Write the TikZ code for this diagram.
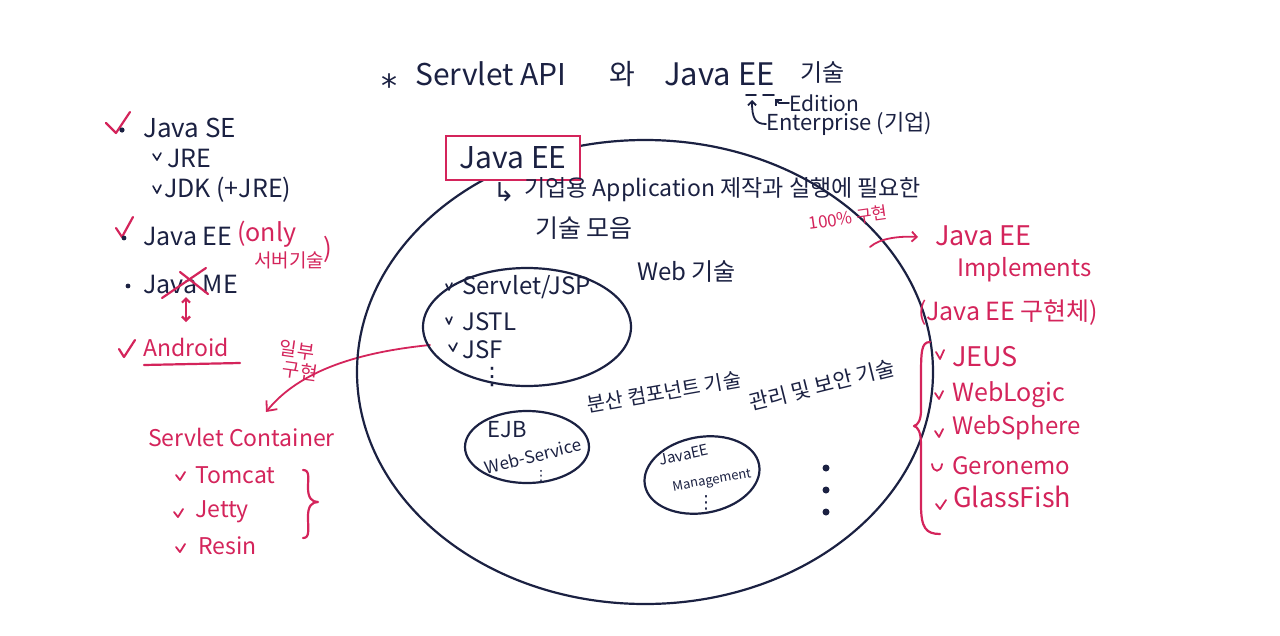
\documentclass[tikz,border=0pt]{standalone}
\usepackage{fontspec}
\setmainfont{Noto Sans CJK KR}
\newfontfamily\symfont{DejaVu Sans}
\usetikzlibrary{arrows.meta}
\definecolor{navy}{HTML}{1B2142}
\definecolor{pinkred}{HTML}{D4245B}
\tikzset{
  nv/.style={text=navy, inner sep=0pt, font=\fontsize{24}{26}\selectfont},
  rd/.style={text=pinkred, inner sep=0pt, font=\fontsize{24}{26}\selectfont},
  nvline/.style={draw=navy, line width=2.2pt, line cap=round, line join=round},
  rdline/.style={draw=pinkred, line width=2.2pt, line cap=round, line join=round},
  chk/.style={draw=pinkred, line width=2.2pt, line cap=round, line join=round},
  fs/.style={font=\fontsize{#1}{#1}\selectfont},
}
\begin{document}
\begin{tikzpicture}[x=1pt,y=-1pt]
\useasboundingbox[fill=white] (0,0) rectangle (1280,635);

% ---------- title ----------
\node[nv, fs=32] (star) at (389,86) {\symfont *};
\node[nv, anchor=west, fs=30] (sapi) at (415,74) {Servlet API};
\node[nv, fs=28] (wa) at (622,74) {와};
\node[nv, anchor=west, fs=31] (jee) at (664,74) {Java EE};
\node[nv, anchor=west, fs=24] (gisul) at (800,73) {기술};
\draw[nvline, line width=1.8pt] (746,95) -- (756,95);
\draw[nvline, line width=1.8pt] (763,95) -- (774,95);
\node[nv, anchor=west, fs=21] (edition) at (789,103) {Edition};
\node[nv, anchor=west, fs=22] (enterprise) at (766,124) {Enterprise (기업)};
\draw[nvline, line width=1.8pt, -{Straight Barb[length=4pt]}] (edition.west) -- (779,103) -- (775,99);
\draw[nvline, line width=1.8pt, -{Straight Barb[length=4pt]}] (enterprise.west) .. controls (755,124) and (752,118) .. (752,100);

% ---------- left list ----------
\draw[chk] (106,123) -- (116,133) -- (130,112);
\fill[navy] (122,130) circle (2.6pt);
\node[nv, anchor=west, fs=26] (javase) at (143,128) {Java SE};
\draw[nvline, line width=1.6pt] (153,154) -- (157,160) -- (161,153);
\node[nv, anchor=west, fs=25] (jre) at (167,158) {JRE};
\draw[nvline, line width=1.6pt] (153,186) -- (157,193) -- (161,185);
\node[nv, anchor=west, fs=25] (jdk) at (164,190) {JDK (+JRE)};

\draw[chk] (116,228) -- (122,237) -- (133,217);
\fill[navy] (124,238) circle (2.4pt);
\node[nv, anchor=west, fs=25] (javaee) at (143,236) {Java EE};
\node[rd, anchor=west, fs=25] (only) at (237,234) {(only};
\node[rd, anchor=west, fs=19] (server) at (254,260) {서버기술};
\node[rd, anchor=west, fs=26] (rparen) at (323,249) {)};

\fill[navy] (128,286) circle (2.4pt);
\node[nv, anchor=west, fs=25] (javame) at (143,284) {Java ME};
\draw[rdline] (162,298) -- (206,268);
\draw[rdline] (180,272) -- (208,294);
\draw[rdline, {Straight Barb[length=4pt]}-{Straight Barb[length=4pt]}] (186,297) -- (186,322);

\draw[chk] (119,349) -- (124,357) -- (135,340);
\node[rd, anchor=west, fs=23] (android) at (143,347) {Android};
\draw[rdline] (144,365) -- (240,363);

% ---------- 일부 구현 arrow ----------
\node[rd, rotate=-8, fs=19] (ilbu) at (297,350) {일부};
\node[rd, rotate=-8, fs=19] (guhyun1) at (300,371) {구현};
\coordinate (jsfleft) at (430,345);
\coordinate (sctop) at (266,412);
\draw[rdline, line width=1.8pt, -{Straight Barb[length=8pt, width=14pt]}] (jsfleft) .. controls (360,352) and (300,370) .. (sctop);

% ---------- servlet container ----------
\node[rd, anchor=west, fs=23] (sc) at (148,437) {Servlet Container};
\draw[chk, line width=1.8pt] (176,475) -- (180,480) -- (185,472);
\node[rd, anchor=west, fs=23] (tomcat) at (195,475) {Tomcat};
\draw[chk, line width=1.8pt] (174,512) -- (178,517) -- (183,509);
\node[rd, anchor=west, fs=23] (jetty) at (195,512) {Jetty};
\draw[chk, line width=1.8pt] (176,547) -- (180,552) -- (185,544);
\node[rd, anchor=west, fs=23] (resin) at (198,546) {Resin};
\draw[rdline] (303,470) .. controls (310,470) and (308,478) .. (308,488) .. controls (308,498) and (312,502) .. (318,502)
  .. controls (312,502) and (308,506) .. (308,516) .. controls (308,530) and (310,538) .. (303,538);

% ---------- big circle ----------
\draw[nvline] (645,372) ellipse [x radius=288, y radius=232];
\node[nv, draw=pinkred, line width=2pt, fill=white, minimum width=134pt, minimum height=44pt, fs=30] (eebox) at (513,158) {Java EE};

\node[nv, fs=26] (hookarrow) at (504,192) {\symfont ↳};
\node[nv, anchor=west, fs=23] (desc1) at (524,190) {기업용 Application 제작과 실행에 필요한};
\node[nv, anchor=west, fs=25] (desc2) at (535,228) {기술 모음};

% ---------- 100% 구현 ----------
\node[rd, rotate=8, fs=17] (hundred) at (848,218) {100\% 구현};
\coordinate (circpt) at (870,247);
\draw[rdline, line width=1.8pt, -{Straight Barb[length=5pt]}] (circpt) .. controls (880,238) and (900,236) .. (918,237);
\node[rd, anchor=west, fs=27] (impl1) at (935,236) {Java EE};
\node[rd, anchor=west, fs=24] (impl2) at (957,270) {Implements};
\node[rd, anchor=west, fs=25] (impl3) at (918,313) {(Java EE 구현체)};

\draw[rdline] (930,342) .. controls (921,342) and (921,352) .. (921,380) -- (921,410) .. controls (921,420) and (918,425) .. (914,426)
  .. controls (918,427) and (921,432) .. (921,445) -- (921,505) .. controls (921,528) and (926,534) .. (940,534);
\draw[chk, line width=1.8pt] (936,352) -- (940,359) -- (944,350);
\node[rd, anchor=west, fs=27] (jeus) at (952,357) {JEUS};
\draw[chk, line width=1.8pt] (935,393) -- (939,399) -- (943,391);
\node[rd, anchor=west, fs=25] (weblogic) at (952,395) {WebLogic};
\draw[chk, line width=1.8pt] (935,431) -- (939,437) -- (943,429);
\node[rd, anchor=west, fs=24] (websphere) at (952,428) {WebSphere};
\draw[chk, line width=1.8pt] (932,464) .. controls (933,473) and (941,473) .. (942,464);
\node[rd, anchor=west, fs=24] (geronemo) at (952,466) {Geronemo};
\draw[chk, line width=1.8pt] (936,504) -- (940,509) -- (946,500);
\node[rd, anchor=west, fs=27] (glassfish) at (953,497) {GlassFish};

% ---------- web ellipse ----------
\draw[nvline] (527,327) ellipse [x radius=104, y radius=59];
\draw[nvline, line width=1.6pt] (446,284) -- (449,290) -- (452,283);
\node[nv, anchor=west, fs=24] (servletjsp) at (462,287) {Servlet/JSP};
\draw[nvline, line width=1.6pt] (446,318) -- (449,324) -- (452,317);
\node[nv, anchor=west, fs=24] (jstl) at (462,322) {JSTL};
\draw[nvline, line width=1.6pt] (449,345) -- (453,351) -- (457,343);
\node[nv, anchor=west, fs=24] (jsf) at (462,350) {JSF};
\node[nv, fs=24] (wdots) at (492,377) {\symfont ⋮};
\node[nv, anchor=west, fs=24] (webtech) at (637,272) {Web 기술};

% ---------- EJB ellipse ----------
\node[nv, rotate=10, fs=20] (dist) at (664,392) {분산 컴포넌트 기술};
\draw[nvline] (527,447) ellipse [x radius=62, y radius=36];
\node[nv, fs=22] (ejb) at (507,430) {EJB};
\node[nv, rotate=14, fs=17] (ws) at (533,456) {Web-Service};
\node[nv, fs=14] (edots) at (541,476) {\symfont ⋮};

% ---------- management ellipse ----------
\node[nv, rotate=14, fs=21] (mgmt) at (822,385) {관리 및 보안 기술};
\draw[nvline, rotate around={10:(702,475)}] (702,475) ellipse [x radius=58, y radius=38];
\node[nv, rotate=12, fs=15] (jee2) at (684,455) {JavaEE};
\node[nv, rotate=10, fs=13] (management) at (712,481) {Management};
\node[nv, fs=18] (mdots) at (706,503) {\symfont ⋮};

\fill[navy] (826,468) circle (3.5pt);
\fill[navy] (826,490) circle (3.5pt);
\fill[navy] (826,512) circle (3.5pt);
\end{tikzpicture}
\end{document}
